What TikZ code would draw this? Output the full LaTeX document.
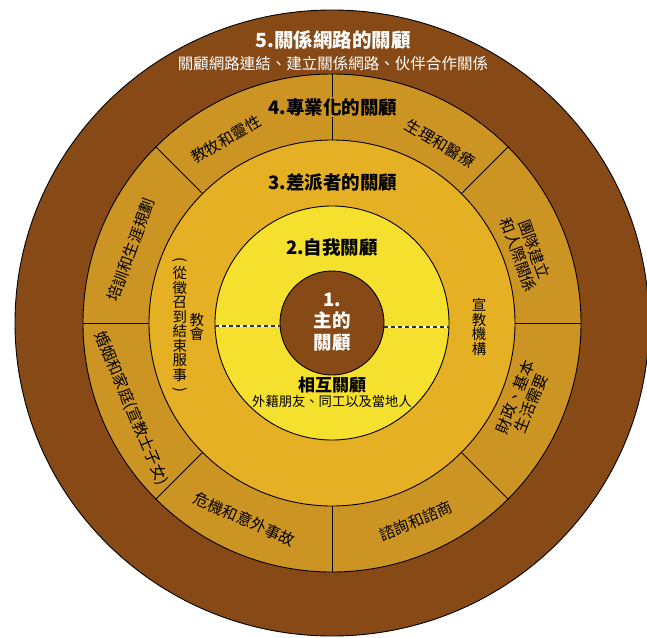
\documentclass[tikz,border=0pt]{standalone}
\usepackage{fontspec}
\setmainfont{Noto Sans CJK TC}
\usetikzlibrary{
  positioning,
}
\definecolor{ringbrown}{RGB}{135, 74, 22}
\definecolor{ringgold}{RGB}{204, 148, 34}
\definecolor{ringamber}{RGB}{229, 176, 36}
\definecolor{ringyellow}{RGB}{246, 224, 46}
\tikzset{
  ring/.style={draw=black, line width=0.9pt},
  divider/.style={draw=black, line width=0.8pt},
  heading/.style={font=\bfseries\fontsize{18.5}{21.5}\selectfont, inner sep=1pt},
  sector/.style={font=\fontsize{15.5}{17}\selectfont, align=center, inner sep=0pt},
  column/.style={font=\fontsize{14.5}{14.5}\selectfont, align=center, inner sep=0pt},
}

\begin{document}
\begin{tikzpicture}[x=1pt, y=1pt]
  \useasboundingbox (-332,-314) rectangle (315,323);
  % rings, outside in
  \filldraw [ring, fill=ringbrown] (0,0) ellipse [x radius=317, y radius=313];
  \filldraw [ring, fill=ringgold] (0,0) circle [radius=249];
  \filldraw [ring, fill=ringamber] (0,0) circle [radius=183];
  \filldraw [ring, fill=ringyellow] (0,0) circle [radius=117];
  \filldraw [ring, fill=ringbrown] (0,0) circle [radius=52];
  \foreach \a in {0,45,...,315}
    \draw [divider] (\a:183) -- (\a:249);
  \draw [white, line width=1.6pt] (-117,-3) -- (-52,-3);
  \draw [black!80, line width=1.3pt, dash pattern=on 4pt off 3pt] (-117,-3) -- (-52,-3);
  \draw [white, line width=1.6pt] (52,-4) -- (117,-4);
  \draw [black!80, line width=1.3pt, dash pattern=on 4pt off 3pt] (52,-4) -- (117,-4);

  % 5
  \node [heading, font=\bfseries\fontsize{19.5}{21}\selectfont, text=white]
        (network) at (1,283) {5.關係網路的關顧};
  \node [text=white, font=\fontsize{15.5}{17}\selectfont, below=2pt of network]
        (networksub) {關顧網路連結、建立關係網路、伙伴合作關係};
  % 4
  \node [heading, fill=ringgold] (special) at (1,216) {4.專業化的關顧};
  \node [sector, rotate=30] (pastoral) at (120:212) {教牧和靈性};
  \node [sector, rotate=-31] (medical) at (59:210) {生理和醫療};
  \node [sector, rotate=-70] (team) at (20:207) {團隊建立\\和人際關係};
  \node [sector, rotate=68] (finance) at (-22:206) {財政、基本\\生活需要};
  \node [sector, rotate=23] (counsel) at (-67:215) {諮詢和諮商};
  \node [sector, rotate=-24] (crisis) at (-114:215) {危機和意外事故};
  \node [sector, rotate=-67] (family) at (-157:218) {婚姻和家庭(宣教士子女)};
  \node [sector, rotate=70] (training) at (160:214) {培訓和生涯規劃};
  % 3
  \node [heading] (sender) at (1,141) {3.差派者的關顧};
  \node [column] (church) at (-135,-4) {教\\會};
  \node [column] (churchnote) at (-152,-3)
        {\rotatebox[origin=c]{-90}{(}\\從\\徵\\召\\到\\結\\束\\服\\事\\\rotatebox[origin=c]{-90}{)}};
  \node [column] (agency) at (147,-4) {宣\\教\\機\\構};
  % 2
  \node [heading] (selfcare) at (0,76) {2.自我關顧};
  \node [heading, font=\bfseries\fontsize{17}{19}\selectfont] (mutual) at (0,-62) {相互關顧};
  \node [font=\fontsize{13.3}{15}\selectfont, inner sep=1pt, below=0pt of mutual]
        (mutualsub) {外籍朋友、同工以及當地人};
  % 1
  \node [heading, text=white, align=center] (lord) at (0,1) {1.\\主的\\關顧};
\end{tikzpicture}
\end{document}
